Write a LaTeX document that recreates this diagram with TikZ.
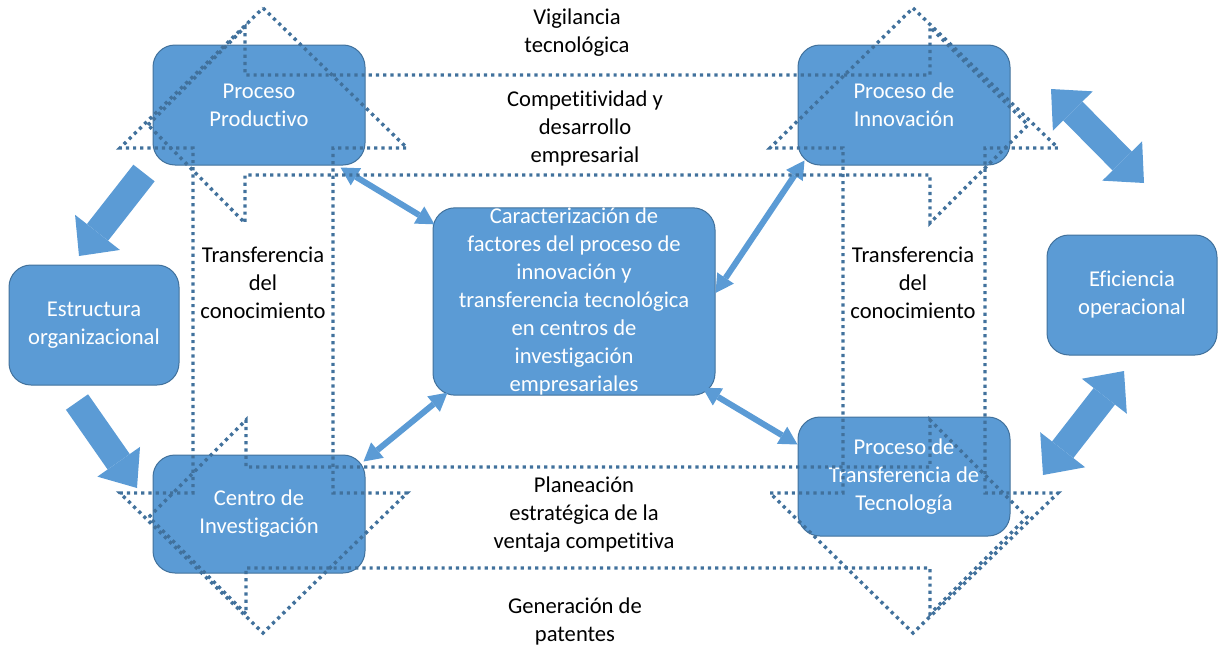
\documentclass[tikz,border=0pt]{standalone}
\usepackage{fontspec}
\setmainfont{Carlito}[Ligatures=CommonOff]
\usetikzlibrary{arrows.meta,calc}
\definecolor{boxblue}{HTML}{5B9BD5}
\definecolor{lineblue}{HTML}{41719C}

\begin{document}
\begin{tikzpicture}[x=0.5pt,y=-0.5pt,
	box/.style={draw=lineblue,line width=0.5pt,fill=boxblue,rounded corners=11pt,
		text=white,align=center,inner sep=0pt,font=\fontsize{11.3}{14}\selectfont},
	texto/.style={align=center,inner sep=0pt,font=\fontsize{11.3}{14}\selectfont},
	punteado/.style={draw=lineblue,line width=1.7pt,dash pattern=on 1.6pt off 2pt},
	bloque/.style={draw=boxblue,line width=13.5pt},
	enlace/.style={draw=boxblue,line width=3pt,
		{Triangle[width=10pt,length=9pt,line width=0pt]}-{Triangle[width=10pt,length=9pt,line width=0pt]}}]
	\useasboundingbox (0,0) rectangle (1220,648);

	\node[box,minimum width=106pt,minimum height=60pt] (pp) at (259,105) {Proceso\\Productivo};
	\node[box,minimum width=106pt,minimum height=60pt] (pi) at (904,105) {Proceso de\\Innovación};
	\node[box,minimum width=106pt,minimum height=59pt] (ci) at (259,514) {Centro de\\Investigación};
	\node[box,minimum width=106pt,minimum height=59.5pt] (pt) at (904,476.5) {Proceso de\\Transferencia de\\Tecnología};
	\node[box,minimum width=141pt,minimum height=93.5pt] (car) at (574,301.5)
		{Caracterización de\\factores del proceso de\\innovación y\\transferencia tecnológica\\en centros de\\investigación\\empresariales};
	\node[box,minimum width=85pt,minimum height=60pt] (eo) at (94,325) {Estructura\\organizacional};
	\node[box,minimum width=85pt,minimum height=60pt] (ef) at (1132,295) {Eficiencia\\operacional};

	\node[texto] (vig) at (577,33) {Vigilancia\\tecnológica};
	\node[texto] (com) at (585,128) {Competitividad y\\desarrollo\\empresarial};
	\node[texto] (tcl) at (263,283) {Transferencia\\del\\conocimiento};
	\node[texto] (tcr) at (913,283) {Transferencia\\del\\conocimiento};
	\node[texto] (pla) at (584,515) {Planeación\\estratégica de la\\ventaja competitiva};
	\node[texto] (gen) at (575,621) {Generación de\\patentes};

	\coordinate (a1) at (144,173);
	\coordinate (b1) at (79,256);
	\coordinate (a2) at (77,402);
	\coordinate (b2) at (137,488);
	\coordinate (a3) at (1051,89);
	\coordinate (b3) at (1144,183);
	\coordinate (a4) at (1043,475);
	\coordinate (b4) at (1124,371);
	\draw[bloque,-{Triangle[width=28.5pt,length=15pt,line width=0pt]}] (a1) -- (b1);
	\draw[bloque,-{Triangle[width=26pt,length=16pt,line width=0pt]}] (a2) -- (b2);
	\draw[bloque,{Triangle[width=28pt,length=15.5pt,line width=0pt]}-{Triangle[width=28pt,length=15.5pt,line width=0pt]}] (a3) -- (b3);
	\draw[bloque,{Triangle[width=28.5pt,length=16pt,line width=0pt]}-{Triangle[width=28.5pt,length=16pt,line width=0pt]}] (a4) -- (b4);

	\draw[enlace] ($(pp.south east)+(-25,2)$) -- ($(car.north west)+(2,17)$);
	\draw[enlace] ($(car.east)+(0,-8.5)$) -- ($(pi.south west)+(7,-5)$);
	\draw[enlace] ($(car.south west)+(15,-3)$) -- ($(ci.north east)+(-2,7)$);
	\draw[enlace] ($(car.south east)+(-13,-8)$) -- ($(pt.north west)+(0,28)$);

	\draw[punteado] (148,125) -- (245,27) -- (245,75) -- (930,75) -- (930,27) -- (1028,125)
		-- (930,223) -- (930,175) -- (245,175) -- (245,223) -- cycle;
	\draw[punteado] (149,517) -- (246,420) -- (246,467) -- (930,467) -- (930,420) -- (1027,517)
		-- (930,614) -- (930,568) -- (246,568) -- (246,614) -- cycle;
	\draw[punteado] (263,8) -- (407,148) -- (333,148) -- (333,493) -- (407,493) -- (263,633)
		-- (120,493) -- (193,493) -- (193,148) -- (120,148) -- cycle;
	\draw[punteado] (913,8) -- (1058,148) -- (985,148) -- (985,493) -- (1058,493) -- (913,633)
		-- (770,493) -- (843,493) -- (843,148) -- (770,148) -- cycle;
\end{tikzpicture}
\end{document}
